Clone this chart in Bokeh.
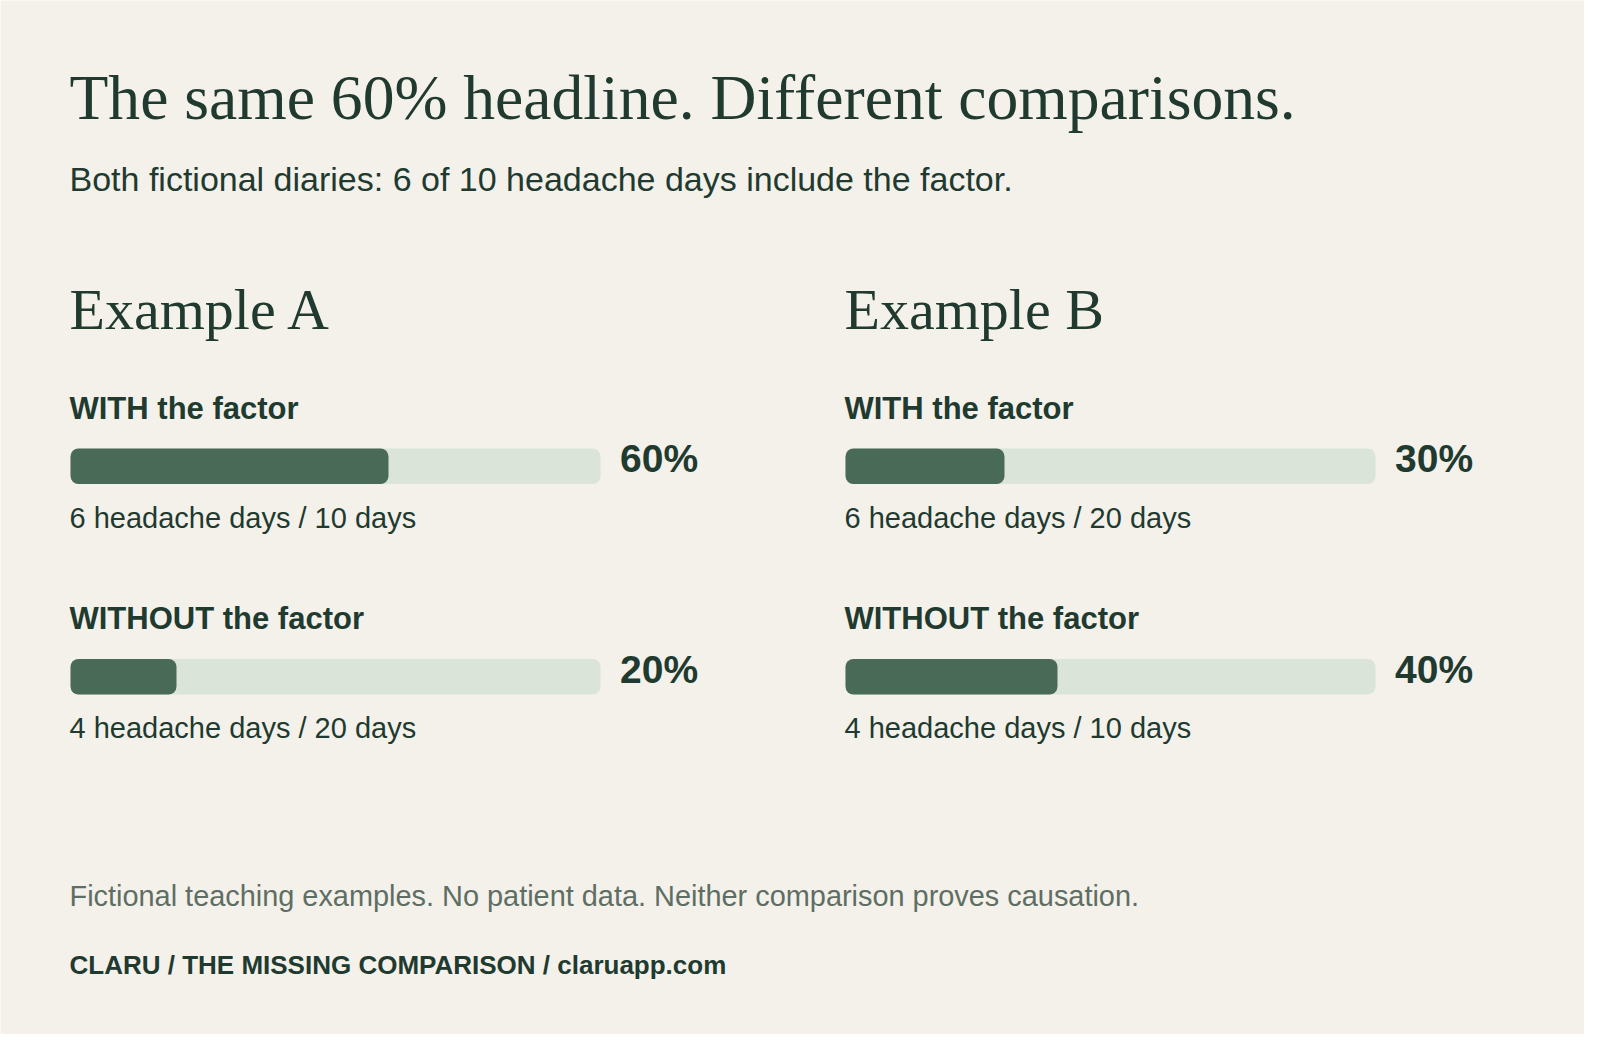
from bokeh.plotting import figure
from bokeh.models import Range1d, ColumnDataSource
from bokeh.core.properties import value
from bokeh.embed import file_html
from bokeh.resources import INLINE

# ---------------- data ----------------
title = "The same 60% headline. Different comparisons."
subtitle = "Both fictional diaries: 6 of 10 headache days include the factor."
examples = ["Example A", "Example B"]
group_labels = ["WITH the factor", "WITHOUT the factor"]
pct_a = [60, 20]
pct_b = [30, 40]
headache_a = [6, 4]
headache_b = [6, 4]
total_a = [10, 20]
total_b = [20, 10]
footnote = "Fictional teaching examples. No patient data. Neither comparison proves causation."
credit = "CLARU / THE MISSING COMPARISON / claruapp.com"

# ---------------- style ----------------
BG = "#F4F1EA"
INK = "#213A30"
BAR = "#486A56"
TRACK = "#DAE4D9"
MUTED = "#5E6E64"
SERIF = "Liberation Serif"
SANS = "Liberation Sans"

W, H = 1584, 1034
p = figure(width=W, height=H, output_backend="svg", toolbar_location=None,
           x_range=Range1d(0, W), y_range=Range1d(H, 0),
           min_border=0, background_fill_color=BG, border_fill_color=BG,
           outline_line_color=None)
p.axis.visible = False
p.xgrid.visible = False
p.ygrid.visible = False

col_x = [70, 845]
track_w = 530
bar_top = [448, 658.5]
bar_h = 35.5
label_base = [418, 628.5]
caption_base = [527.5, 738]
pct_base = [472.5, 683]

K = 0.36  # baseline compensation factor (fraction of font size)


def txt(xs, ys, texts, size, font, color, style="normal"):
    ys = [y - K * size for y in ys]
    src = ColumnDataSource(dict(x=xs, y=ys, t=texts))
    p.text("x", "y", text="t", source=src, text_font=value(font),
           text_font_size=f"{size}px", text_color=color, text_font_style=style,
           text_baseline="alphabetic", text_align="left")


txt([69], [120], [title], 63.6, SERIF, INK)
txt([69], [190.5], [subtitle], 34, SANS, INK)
txt([c - 1 for c in col_x], [329.5, 329.5], examples, 58, SERIF, INK)

all_pct = [pct_a, pct_b]
all_head = [headache_a, headache_b]
all_tot = [total_a, total_b]

tl, tr, tt, tb = [], [], [], []
fl, fr, ft, fb = [], [], [], []
lx, ly, lt = [], [], []
cx, cy, ct = [], [], []
px, py, pt = [], [], []
for ci in range(2):
    for gi in range(2):
        x0 = col_x[ci]
        top = bar_top[gi]
        tl.append(x0); tr.append(x0 + track_w); tt.append(top); tb.append(top + bar_h)
        fl.append(x0); fr.append(x0 + track_w * all_pct[ci][gi] / 100.0)
        ft.append(top); fb.append(top + bar_h)
        lx.append(x0 - 1); ly.append(label_base[gi] + 1); lt.append(group_labels[gi])
        cx.append(x0 - 1); cy.append(caption_base[gi])
        ct.append(f"{all_head[ci][gi]} headache days / {all_tot[ci][gi]} days")
        px.append(x0 + track_w + 19.5); py.append(pct_base[gi])
        pt.append(f"{all_pct[ci][gi]}%")

p.quad(left=tl, right=tr, top=tt, bottom=tb, fill_color=TRACK, line_color=None,
       border_radius=8)
p.quad(left=fl, right=fr, top=ft, bottom=fb, fill_color=BAR, line_color=None,
       border_radius=8)

txt(lx, ly, lt, 31, SANS, INK, "bold")
txt(cx, cy, ct, 29, SANS, INK)
txt(px, py, pt, 39, SANS, INK, "bold")

txt([69], [906], [footnote], 28.9, SANS, MUTED)
txt([69], [973.5], [credit], 26, SANS, INK, "bold")

open("out.html", "w").write(file_html(p, INLINE))
